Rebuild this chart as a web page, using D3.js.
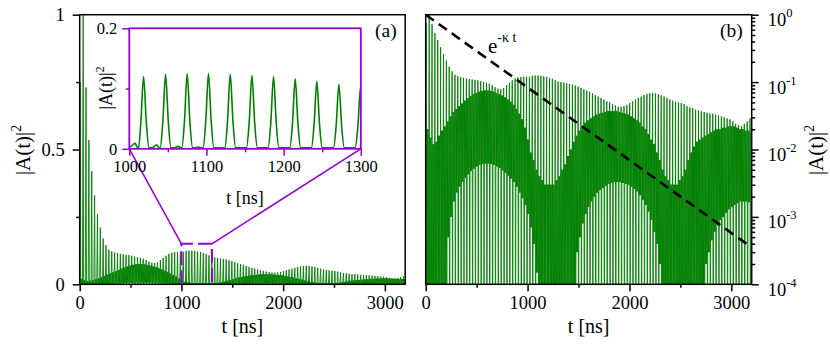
<!DOCTYPE html>
<html>
<head>
<meta charset="utf-8">
<script src="https://cdn.jsdelivr.net/npm/d3@7"></script>
<style>
  body { margin: 0; background: #fff; }
</style>
</head>
<body>
<div id="chart"></div>
<script>
// ---- data ----
// one entry per oscillation period (peak every ~28.1 ns starting near t = 6 ns)
const firstPeak = 6;
const period = 28.12;
const dipVal = 1e-6;   // the deep zero between peaks, below the log axis

const peakVals = [
  0.75, 1.0, 0.73, 0.535, 0.42, 0.33, 0.26, 0.21, 0.17, 0.145,
  0.128, 0.122, 0.118, 0.116, 0.113, 0.111, 0.109, 0.108, 0.106, 0.103,
  0.1, 0.098, 0.095, 0.09, 0.084, 0.08, 0.079, 0.082, 0.09, 0.098,
  0.106, 0.113, 0.117, 0.119, 0.12, 0.12, 0.12, 0.124, 0.125, 0.125,
  0.124, 0.122, 0.12, 0.116, 0.112, 0.107, 0.102, 0.1, 0.098, 0.096,
  0.094, 0.092, 0.089, 0.086, 0.082, 0.078, 0.075, 0.072, 0.068, 0.064,
  0.061, 0.058, 0.055, 0.052, 0.05, 0.047, 0.045, 0.043, 0.043, 0.044,
  0.046, 0.049, 0.052, 0.055, 0.058, 0.061, 0.064, 0.066, 0.068, 0.069,
  0.068, 0.066, 0.064, 0.061, 0.058, 0.055, 0.053, 0.051, 0.05, 0.049,
  0.047, 0.044, 0.042, 0.041, 0.039, 0.038, 0.037, 0.036, 0.035, 0.034,
  0.034, 0.033, 0.032, 0.031, 0.03, 0.029, 0.028, 0.026, 0.024, 0.023,
  0.022, 0.024, 0.026, 0.029
];
// secondary bumps between peaks (top of the dark band)
const subVals = [
  0.02, 0.015, 0.012, 0.013, 0.016, 0.019, 0.022, 0.026, 0.031, 0.036,
  0.04, 0.044, 0.048, 0.053, 0.058, 0.062, 0.066, 0.069, 0.072, 0.074,
  0.075, 0.075, 0.074, 0.072, 0.069, 0.066, 0.063, 0.059, 0.055, 0.051,
  0.046, 0.04, 0.034, 0.028, 0.021, 0.014, 0.009, 0.007, 0.005, 0.004,
  0.0035, 0.003, 0.003, 0.003, 0.003, 0.0035, 0.004, 0.005, 0.006, 0.008,
  0.01, 0.013, 0.016, 0.019, 0.022, 0.025, 0.027, 0.029, 0.031, 0.033,
  0.034, 0.035, 0.036, 0.037, 0.037, 0.037, 0.037, 0.036, 0.035, 0.034,
  0.033, 0.031, 0.029, 0.027, 0.025, 0.022, 0.02, 0.017, 0.014, 0.012,
  0.009, 0.007, 0.005, 0.004, 0.0035, 0.003, 0.003, 0.003, 0.0035, 0.004,
  0.005, 0.007, 0.009, 0.011, 0.013, 0.014, 0.015, 0.016, 0.017, 0.018,
  0.019, 0.02, 0.02, 0.021, 0.021, 0.022, 0.022, 0.022, 0.021, 0.02,
  0.02, 0.019, 0.019, 0.018
];
// low level between the bumps (bottom of the dark band)
const lowVals = [
  2e-5, 2e-5, 2e-5, 2e-5, 2e-5, 2e-5, 1e-4, 5e-4, 1e-3, 1.7e-3,
  2.3e-3, 2.8e-3, 3.3e-3, 3.8e-3, 4.3e-3, 4.8e-3, 5.2e-3, 5.6e-3, 5.9e-3, 6.1e-3,
  6.2e-3, 6.2e-3, 6.1e-3, 5.9e-3, 5.6e-3, 5.3e-3, 4.9e-3, 4.5e-3, 4.1e-3, 3.7e-3,
  3.3e-3, 2.8e-3, 2.3e-3, 1.9e-3, 1.5e-3, 1.1e-3, 7e-4, 4e-4, 1.5e-4, 2e-5,
  2e-5, 2e-5, 2e-5, 2e-5, 2e-5, 2e-5, 2e-5, 2e-5, 2e-5, 2e-5,
  2e-5, 1e-4, 3e-4, 5e-4, 8e-4, 1.1e-3, 1.4e-3, 1.7e-3, 2e-3, 2.3e-3,
  2.5e-3, 2.7e-3, 2.9e-3, 3.1e-3, 3.2e-3, 3.3e-3, 3.3e-3, 3.3e-3, 3.2e-3, 3.1e-3,
  3e-3, 2.8e-3, 2.6e-3, 2.4e-3, 2.1e-3, 1.8e-3, 1.5e-3, 1.2e-3, 9e-4, 6e-4,
  4e-4, 2e-4, 1e-4, 2e-5, 2e-5, 2e-5, 2e-5, 2e-5, 2e-5, 2e-5,
  2e-5, 2e-5, 2e-5, 2e-5, 2e-5, 2e-5, 1e-4, 2e-4, 3e-4, 4.5e-4,
  6e-4, 7.5e-4, 9e-4, 1e-3, 1.15e-3, 1.3e-3, 1.4e-3, 1.5e-3, 1.6e-3, 1.7e-3,
  1.7e-3, 1.7e-3, 1.65e-3, 1.6e-3
];

// inset: 1000 - 1300 ns
const insetT = [
  1000, 1004, 1007.5, 1010, 1012,
  1015, 1018.5, 1022, 1025.5,
  1030, 1033, 1036, 1038, 1040,
  1043.5, 1047, 1050.5, 1054,
  1058, 1061, 1064, 1066, 1068,
  1071.5, 1075, 1078.5, 1082,
  1086, 1089, 1091, 1093, 1095.6,
  1099.1, 1102.6, 1106.1, 1109.6,
  1123.8, 1127.3, 1130.8, 1134.3, 1137.8,
  1151.9, 1155.4, 1158.9, 1162.4, 1165.9,
  1179.9, 1183.4, 1186.9, 1190.4, 1193.9,
  1208, 1211.5, 1215, 1218.5, 1222,
  1236, 1239.5, 1243, 1246.5, 1250,
  1264.6, 1268.1, 1271.6, 1275.1, 1278.6,
  1292.7, 1296.2, 1299.7, 1300
];
const insetV = [
  0.002, 0.006, 0.009, 0.003, 0.0015,
  0.045, 0.12, 0.045, 0.0015,
  0.0015, 0.005, 0.0063, 0.002, 0.0015,
  0.046, 0.124, 0.046, 0.0015,
  0.0015, 0.003, 0.004, 0.002, 0.0015,
  0.046, 0.125, 0.046, 0.0015,
  0.0015, 0.003, 0.002, 0.0015, 0.0015,
  0.046, 0.125, 0.046, 0.0015,
  0.0015, 0.046, 0.124, 0.046, 0.0015,
  0.0015, 0.045, 0.122, 0.045, 0.0015,
  0.0015, 0.044, 0.12, 0.044, 0.0015,
  0.0015, 0.043, 0.116, 0.043, 0.0015,
  0.0015, 0.041, 0.112, 0.041, 0.0015,
  0.0015, 0.039, 0.107, 0.039, 0.0015,
  0.0015, 0.037, 0.102, 0.1
];

// dashed reference line e^{-kappa t}, straight on the log axis
const decayT = [0, 3180];
const decayV = [1, 3.7e-4];

const xMajor = [0, 1000, 2000, 3000];
const xMinor = [500, 1500, 2500];
const yMajorA = [0, 0.5, 1];
const yMinorA = [0.25, 0.75];
const yMajorB = [1e-4, 1e-3, 1e-2, 1e-1, 1];
const insetXMajor = [1000, 1100, 1200, 1300];
const insetXMinor = [1050, 1150, 1250];
const zoomBox = { t0: 1000, t1: 1300, top: 0.15 };

// ---- build the line from the per-period values ----
// within a period: peak, deep zero, then the band between sub and low twice
const series = [];
peakVals.forEach((p, i) => {
  const t = firstPeak + i * period;
  series.push({ t: t, v: p });
  series.push({ t: t + 0.15 * period, v: dipVal });
  series.push({ t: t + 0.3 * period, v: subVals[i] });
  series.push({ t: t + 0.45 * period, v: lowVals[i] });
  series.push({ t: t + 0.6 * period, v: subVals[i] });
  series.push({ t: t + 0.75 * period, v: lowVals[i] });
});
const inset = insetT.map((t, i) => ({ t: t, v: insetV[i] }));

// ---- layout ----
const W = 830, H = 347;
const green = "#008000", violet = "#9400d3";
const FONT = '"Liberation Serif"';
const A = { l: 79.7, r: 405.2, t: 14.7, b: 284.3 };
const B = { l: 425.7, r: 751.7, t: 14.7, b: 284.3 };
const I = { l: 129.3, r: 360.8, t: 28.3, b: 148.8 };

const svg = d3.select("#chart").append("svg")
  .attr("width", W).attr("height", H);

const defs = svg.append("defs");
function clip(id, p, extra) {
  defs.append("clipPath").attr("id", id).append("rect")
    .attr("x", p.l).attr("y", p.t)
    .attr("width", p.r - p.l).attr("height", p.b - p.t + (extra || 0));
}
clip("clipA", A, 3);
clip("clipB", B, 0);
clip("clipI", I, 0);

const xA = d3.scaleLinear().domain([0, 3200]).range([A.l, A.r]);
const yA = d3.scaleLinear().domain([0, 1]).range([A.b, A.t]);
const xB = d3.scaleLinear().domain([0, 3200]).range([B.l, B.r]);
const yB = d3.scaleLog().domain([1e-4, 1]).range([B.b, B.t]);
const xI = d3.scaleLinear().domain([1000, 1300]).range([I.l, I.r]);
const yI = d3.scaleLinear().domain([0, 0.2]).range([I.b, I.t]);

// ---- signal ----
svg.append("path")
  .datum(series)
  .attr("clip-path", "url(#clipA)")
  .attr("fill", "none").attr("stroke", green).attr("stroke-width", 0.9)
  .attr("d", d3.line().x(d => xA(d.t)).y(d => yA(d.v)));

svg.append("path")
  .datum(series)
  .attr("clip-path", "url(#clipB)")
  .attr("fill", "none").attr("stroke", green).attr("stroke-width", 0.9)
  .attr("d", d3.line().x(d => xB(d.t)).y(d => yB(Math.max(d.v, 1e-6))));

// dashed e^{-kt}
svg.append("path")
  .datum(decayT.map((t, i) => ({ t: t, v: decayV[i] })))
  .attr("fill", "none").attr("stroke", "#000").attr("stroke-width", 2.6)
  .attr("stroke-dasharray", "10,6")
  .attr("d", d3.line().x(d => xB(d.t)).y(d => yB(d.v)));

// ---- text helper ----
function txt(parent, x, y, size) {
  return parent.append("text").attr("x", x).attr("y", y)
    .attr("font-size", size).attr("fill", "#000")
    .style("font-family", FONT);
}

// ---- axes helpers ----
function tidy(g, size, color) {
  g.attr("font-family", null);
  g.select(".domain").remove();
  g.selectAll("line").attr("stroke", color || "#000").attr("stroke-width", 1.5);
  g.selectAll("text").attr("fill", "#000").attr("font-size", size)
    .style("font-family", FONT);
}

// panel (a)
svg.append("g").attr("transform", `translate(0,${A.b})`)
  .call(d3.axisBottom(xA).tickValues(xMajor).tickSize(7).tickPadding(5).tickFormat(d3.format("d")))
  .call(g => tidy(g, 18.5));
svg.append("g").attr("transform", `translate(0,${A.b})`)
  .call(d3.axisBottom(xA).tickValues(xMinor).tickSize(3.5).tickFormat(""))
  .call(g => tidy(g, 18.5));
svg.append("g").attr("transform", `translate(${A.l},0)`)
  .call(d3.axisLeft(yA).tickValues(yMajorA).tickSize(7).tickPadding(8).tickFormat(d => String(d)))
  .call(g => tidy(g, 18.5));
svg.append("g").attr("transform", `translate(${A.l},0)`)
  .call(d3.axisLeft(yA).tickValues(yMinorA).tickSize(3.5).tickFormat(""))
  .call(g => tidy(g, 18.5));

// panel (b)
svg.append("g").attr("transform", `translate(0,${B.b})`)
  .call(d3.axisBottom(xB).tickValues(xMajor).tickSize(7).tickPadding(5).tickFormat(d3.format("d")))
  .call(g => tidy(g, 18.5));
svg.append("g").attr("transform", `translate(0,${B.b})`)
  .call(d3.axisBottom(xB).tickValues(xMinor).tickSize(3.5).tickFormat(""))
  .call(g => tidy(g, 18.5));
const yMinorB = [];
yMajorB.slice(0, -1).forEach(m => { for (let k = 2; k < 10; k++) yMinorB.push(m * k); });
svg.append("g").attr("transform", `translate(${B.r},0)`)
  .call(d3.axisRight(yB).tickValues(yMinorB).tickSize(3.5).tickFormat(""))
  .call(g => tidy(g, 18.5));
const yAxB = svg.append("g").attr("transform", `translate(${B.r},0)`)
  .call(d3.axisRight(yB).tickValues(yMajorB).tickSize(7).tickFormat(""))
  .call(g => tidy(g, 18.5));
yAxB.selectAll(".tick").each(function (d) {
  const t = txt(d3.select(this), 16, 11, 18.5);
  t.append("tspan").text("10");
  t.append("tspan").attr("dy", -9).attr("font-size", 12.5)
    .text(String(Math.round(Math.log10(d))));
});

// frames
[A, B].forEach(p => {
  svg.append("rect").attr("x", p.l).attr("y", p.t)
    .attr("width", p.r - p.l).attr("height", p.b - p.t)
    .attr("fill", "none").attr("stroke", "#000").attr("stroke-width", 1.5);
});

// axis titles
txt(svg, (A.l + A.r) / 2, 333, 20).attr("text-anchor", "middle").text("t [ns]");
txt(svg, (B.l + B.r) / 2, 333, 20).attr("text-anchor", "middle").text("t [ns]");

function yTitle(x, y, size) {
  const t = txt(svg, 0, 0, size)
    .attr("transform", `translate(${x},${y}) rotate(-90)`)
    .attr("text-anchor", "middle");
  t.append("tspan").text("|A(t)|");
  t.append("tspan").attr("dy", -size * 0.45).attr("font-size", size * 0.65).text("2");
}
yTitle(30, 150, 21);
yTitle(823, 150, 21);

txt(svg, 375, 37, 19.5).text("(a)");
txt(svg, 720, 37, 19.5).text("(b)");

const eLab = txt(svg, 488, 53, 21);
eLab.append("tspan").text("e");
eLab.append("tspan").attr("dy", -11).attr("font-size", 14).text("-\u03ba t");

// ---- zoom marker in (a) ----
const zx0 = xA(zoomBox.t0), zx1 = xA(zoomBox.t1), zy = yA(zoomBox.top);
svg.append("path")
  .attr("d", `M${zx0},${A.b}V${zy}H${zx1}V${A.b}`)
  .attr("fill", "none").attr("stroke", violet).attr("stroke-width", 2)
  .attr("stroke-dasharray", "14,5");
svg.append("line").attr("x1", zx0).attr("y1", zy).attr("x2", I.l).attr("y2", I.b)
  .attr("stroke", violet).attr("stroke-width", 1.5);
svg.append("line").attr("x1", zx1).attr("y1", zy).attr("x2", I.r).attr("y2", I.b)
  .attr("stroke", violet).attr("stroke-width", 1.5);

// ---- inset ----
svg.append("rect").attr("x", I.l).attr("y", I.t)
  .attr("width", I.r - I.l).attr("height", I.b - I.t).attr("fill", "#fff");
svg.append("path")
  .datum(inset)
  .attr("clip-path", "url(#clipI)")
  .attr("fill", "none").attr("stroke", green).attr("stroke-width", 1.6)
  .attr("d", d3.line().curve(d3.curveMonotoneX).x(d => xI(d.t)).y(d => yI(d.v)));

svg.append("g").attr("transform", `translate(0,${I.b})`)
  .call(d3.axisBottom(xI).tickValues(insetXMajor).tickSize(7).tickPadding(4).tickFormat(d3.format("d")))
  .call(g => tidy(g, 16.5, violet));
svg.append("g").attr("transform", `translate(0,${I.b})`)
  .call(d3.axisBottom(xI).tickValues(insetXMinor).tickSize(3.5).tickFormat(""))
  .call(g => tidy(g, 16.5, violet));
svg.append("g").attr("transform", `translate(${I.l},0)`)
  .call(d3.axisLeft(yI).tickValues([0, 0.2]).tickSize(7).tickPadding(5).tickFormat(d => String(d)))
  .call(g => tidy(g, 16.5, violet));
svg.append("g").attr("transform", `translate(${I.l},0)`)
  .call(d3.axisLeft(yI).tickValues([0.1]).tickSize(3.5).tickFormat(""))
  .call(g => tidy(g, 16.5, violet));
svg.append("rect").attr("x", I.l).attr("y", I.t)
  .attr("width", I.r - I.l).attr("height", I.b - I.t)
  .attr("fill", "none").attr("stroke", violet).attr("stroke-width", 1.8);

txt(svg, (I.l + I.r) / 2, 204, 18).attr("text-anchor", "middle").text("t [ns]");
yTitle(112, 88, 18);
</script>
</body>
</html>
